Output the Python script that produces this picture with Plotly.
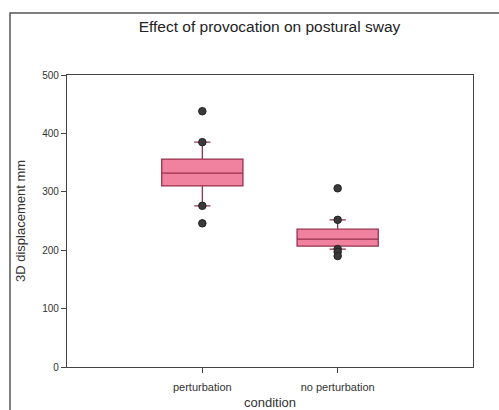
import plotly.graph_objects as go

categories = ["perturbation", "no perturbation"]
q1 = [310, 207]
median = [332, 219]
q3 = [356, 236]
lower_whisker = [276, 202]
upper_whisker = [385, 252]
# points drawn as dots (outliers and whisker-end points)
pt_cat = ["perturbation"] * 4 + ["no perturbation"] * 5
pt_val = [438, 385, 276, 246, 306, 252, 202, 197, 190]

fig = go.Figure()
for i, c in enumerate(categories):
    fig.add_trace(go.Box(
        x=[c], q1=[q1[i]], median=[median[i]], q3=[q3[i]],
        lowerfence=[lower_whisker[i]], upperfence=[upper_whisker[i]],
        fillcolor="#f0819f", line=dict(color="#97324f", width=1.3),
        width=0.6, whiskerwidth=0.2, boxpoints=False, showlegend=False,
    ))
fig.add_trace(go.Scatter(
    x=pt_cat, y=pt_val, mode="markers",
    marker=dict(color="#3a3a3a", size=7.5, line=dict(color="#222", width=1)),
    showlegend=False,
))

fig.update_layout(
    width=499, height=410,
    margin=dict(l=67, r=26, t=75, b=43),
    paper_bgcolor="white", plot_bgcolor="white",
    font=dict(family="Arial, Liberation Sans, sans-serif", color="#333"),
    title=dict(text="Effect of provocation on postural sway", x=0.54, xanchor="center",
               y=0.935, yanchor="middle", font=dict(size=15.5, color="#222")),
    xaxis=dict(type="category", range=[-1, 2], showline=True, linecolor="#444",
               linewidth=1.3, mirror=True, ticks="outside", ticklen=5, tickcolor="#444",
               tickfont=dict(size=11), showgrid=False, ticklabelstandoff=5,
               automargin=False,
               title=dict(text="condition", font=dict(size=13), standoff=12)),
    yaxis=dict(range=[0, 500], dtick=100, showline=True, linecolor="#444", linewidth=1.3,
               mirror=True, ticks="outside", ticklen=5, tickcolor="#444",
               tickfont=dict(size=10), showgrid=False, zeroline=False,
               automargin=False,
               title=dict(text="3D displacement mm", font=dict(size=13), standoff=13)),
    shapes=[dict(type="rect", xref="paper", yref="paper",
                 x0=(10 - 67) / 406, x1=1.2, y0=-0.3, y1=(367 - 13) / 292,
                 line=dict(color="#555", width=1.5), layer="below")],
)

fig.write_html("out.html")
